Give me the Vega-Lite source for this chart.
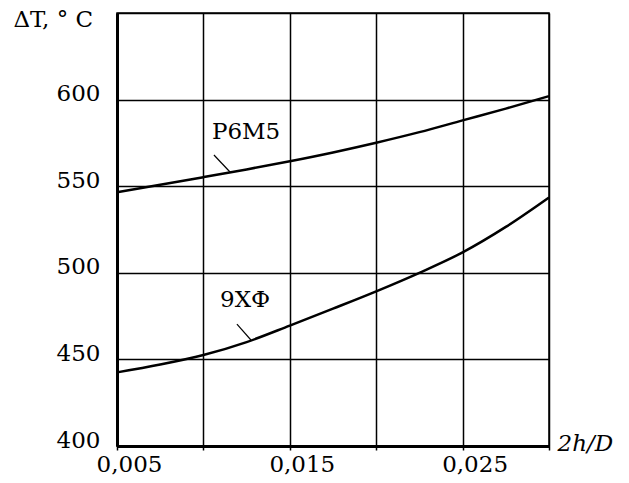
{
  "$schema": "https://vega.github.io/schema/vega-lite/v6.json",
  "autosize": {"type": "none"},
  "width": 432,
  "height": 433,
  "padding": {"left": 117, "top": 13, "right": 80, "bottom": 37},
  "background": "white",
  "config": {
    "font": "DejaVu Serif",
    "view": {"stroke": "black", "strokeWidth": 1.5},
    "axis": {"gridColor": "black", "gridOpacity": 1, "gridWidth": 1.5, "domainColor": "black", "domainWidth": 3, "labelColor": "black", "titleColor": "black", "labelFont": "DejaVu Serif", "titleFont": "DejaVu Serif", "labelFontSize": 23, "titleFontSize": 23, "titleFontWeight": "normal"}
  },
  "datasets": {
    "curves": [
      {"series": "Р6М5", "x": 0.005, "y": 546.5},
      {"series": "Р6М5", "x": 0.0075, "y": 550.8},
      {"series": "Р6М5", "x": 0.01, "y": 555.2},
      {"series": "Р6М5", "x": 0.0125, "y": 559.7},
      {"series": "Р6М5", "x": 0.015, "y": 564.4},
      {"series": "Р6М5", "x": 0.0175, "y": 569.5},
      {"series": "Р6М5", "x": 0.02, "y": 575.1},
      {"series": "Р6М5", "x": 0.0225, "y": 581.2},
      {"series": "Р6М5", "x": 0.025, "y": 588},
      {"series": "Р6М5", "x": 0.0275, "y": 594.8},
      {"series": "Р6М5", "x": 0.03, "y": 602},
      {"series": "9ХФ", "x": 0.005, "y": 442.5},
      {"series": "9ХФ", "x": 0.0075, "y": 447},
      {"series": "9ХФ", "x": 0.01, "y": 452.5},
      {"series": "9ХФ", "x": 0.0125, "y": 460},
      {"series": "9ХФ", "x": 0.015, "y": 469.5},
      {"series": "9ХФ", "x": 0.0175, "y": 479.3},
      {"series": "9ХФ", "x": 0.02, "y": 489.3},
      {"series": "9ХФ", "x": 0.0225, "y": 500},
      {"series": "9ХФ", "x": 0.025, "y": 511.8},
      {"series": "9ХФ", "x": 0.0275, "y": 526.5},
      {"series": "9ХФ", "x": 0.03, "y": 543.5}
    ],
    "labels": [
      {"text": "Р6М5", "x": 0.01247, "y": 581.3, "x1": 0.01061, "y1": 568.0, "x2": 0.01154, "y2": 558.2},
      {"text": "9ХФ", "x": 0.01241, "y": 484.3, "x1": 0.01194, "y1": 470.4, "x2": 0.01275, "y2": 461.2}
    ]
  },
  "layer": [
    {
      "data": {"name": "curves"},
      "mark": {"type": "line", "color": "black", "strokeWidth": 2.5, "interpolate": "monotone"},
      "encoding": {
        "x": {
          "field": "x", "type": "quantitative",
          "scale": {"domain": [0.005, 0.03], "nice": false, "zero": false},
          "axis": {
            "values": [0.005, 0.01, 0.015, 0.02, 0.025, 0.03],
            "labelExpr": "(abs(datum.value-0.005)<1e-6||abs(datum.value-0.015)<1e-6||abs(datum.value-0.025)<1e-6) ? replace(format(datum.value,'.3f'),'.',',') : ''",
            "tickSize": 4, "tickColor": "black", "tickWidth": 1.5,
            "labelFlush": false, "labelOverlap": false,
            "labelPadding": 3, "labelOffset": 12, "labelBaseline": "top",
            "title": "2h/D", "titleFontStyle": "italic",
            "titleAnchor": "start", "titleAlign": "left", "titleBaseline": "middle",
            "titleX": 440, "titleY": -3
          }
        },
        "y": {
          "field": "y", "type": "quantitative",
          "scale": {"domain": [400, 650], "nice": false, "zero": false},
          "axis": {
            "values": [400, 450, 500, 550, 600, 650],
            "labelExpr": "datum.value == 650 ? '' : datum.label",
            "labelFlush": false,
            "ticks": false, "labelPadding": 17, "labelOffset": -6,
            "title": "ΔT, ° C", "titleAngle": 0, "titleAlign": "left", "titleBaseline": "middle",
            "titleX": -104, "titleY": 6
          }
        },
        "detail": {"field": "series", "type": "nominal"}
      }
    },
    {
      "data": {"name": "labels"},
      "mark": {"type": "rule", "color": "black", "strokeWidth": 1.2},
      "encoding": {
        "x": {"field": "x1", "type": "quantitative"},
        "y": {"field": "y1", "type": "quantitative"},
        "x2": {"field": "x2"},
        "y2": {"field": "y2"}
      }
    },
    {
      "data": {"name": "labels"},
      "mark": {"type": "text", "font": "DejaVu Serif", "fontSize": 23, "color": "black", "align": "center", "baseline": "middle"},
      "encoding": {
        "x": {"field": "x", "type": "quantitative"},
        "y": {"field": "y", "type": "quantitative"},
        "text": {"field": "text"}
      }
    }
  ]
}
